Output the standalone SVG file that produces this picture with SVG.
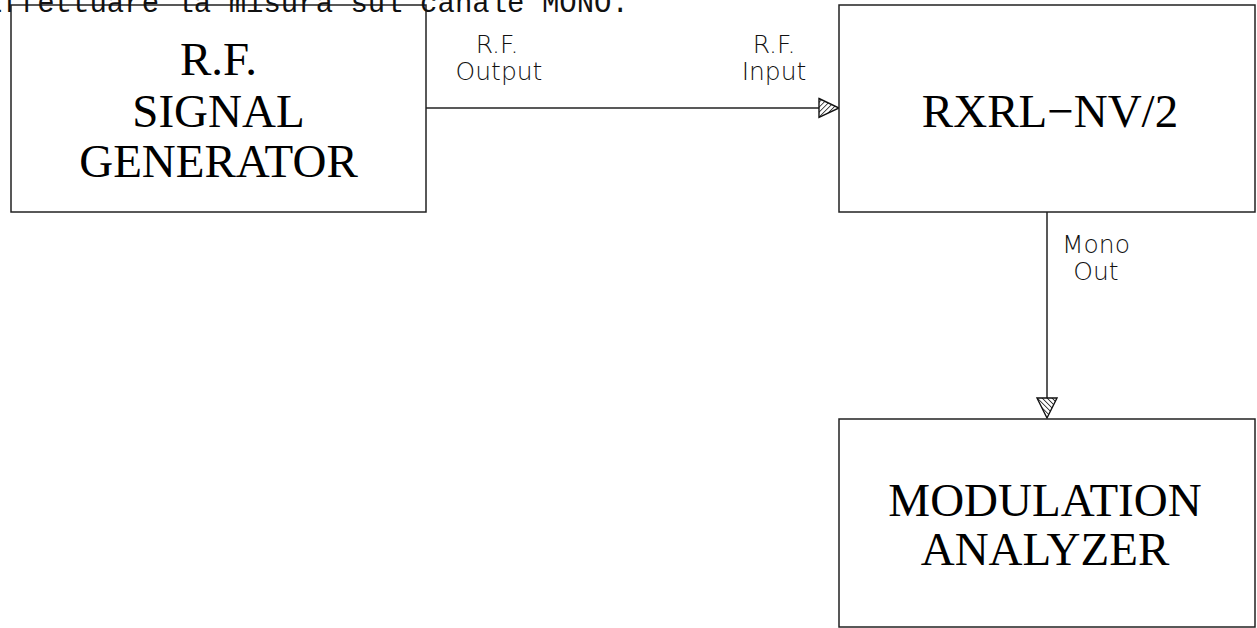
<svg xmlns="http://www.w3.org/2000/svg" width="1257" height="628" viewBox="0 0 1257 628">
<style>
.box{fill:#fff;stroke:#222;stroke-width:1.5}
.big{font-family:"Liberation Serif","DejaVu Serif",serif;font-size:47px;fill:#000;text-anchor:middle}
.lbl{font-family:"DejaVu Sans","Liberation Sans",sans-serif;font-weight:300;font-size:25px;fill:#111;text-anchor:middle}
.note{font-family:"Liberation Mono","DejaVu Sans Mono",monospace;font-size:29px;fill:#111}
.wire{stroke:#222;stroke-width:1.5;fill:none}
.head{stroke:#111;stroke-width:1.4;fill:url(#hatch)}
</style>
<defs>
<pattern id="hatch" width="3.5" height="3.5" patternUnits="userSpaceOnUse" patternTransform="rotate(45)">
<rect width="3.5" height="3.5" fill="#fff"/>
<line x1="0" y1="0" x2="0" y2="3.5" stroke="#111" stroke-width="1.5"/>
</pattern>
<pattern id="hatch2" width="3.5" height="3.5" patternUnits="userSpaceOnUse" patternTransform="rotate(-45)">
<rect width="3.5" height="3.5" fill="#fff"/>
<line x1="0" y1="0" x2="0" y2="3.5" stroke="#111" stroke-width="1.5"/>
</pattern>
</defs>
<g id="connectors">
<line class="wire" x1="426" y1="108" x2="820" y2="108"/>
<polygon class="head" points="819,98.5 839,108 819,117.5"/>
<line class="wire" x1="1047" y1="212" x2="1047" y2="398"/>
<polygon class="head" style="fill:url(#hatch2)" points="1037,398 1057,398 1047,418"/>
<text class="lbl" x="497" y="53">R.F.</text>
<text class="lbl" x="499" y="80">Output</text>
<text class="lbl" x="774" y="53">R.F.</text>
<text class="lbl" x="774" y="80">Input</text>
<text class="lbl" x="1096" y="253">Mono</text>
<text class="lbl" x="1096" y="280">Out</text>
</g>
<g id="signal-generator">
<rect class="box" x="11" y="5" width="415" height="207"/>
<text class="big" x="218.5" y="75">R.F.</text>
<text class="big" x="218.5" y="127">SIGNAL</text>
<text class="big" x="218.5" y="177">GENERATOR</text>
</g>
<g id="rxrl">
<rect class="box" x="839" y="5" width="416" height="207"/>
<text class="big" x="1050" y="127">RXRL−NV/2</text>
</g>
<g id="modulation-analyzer">
<rect class="box" x="839" y="419" width="416" height="208"/>
<text class="big" x="1045" y="516">MODULATION</text>
<text class="big" x="1045" y="565">ANALYZER</text>
</g>
<text class="note" x="-15" y="12">Effettuare la misura sul canale MONO.</text>
</svg>
